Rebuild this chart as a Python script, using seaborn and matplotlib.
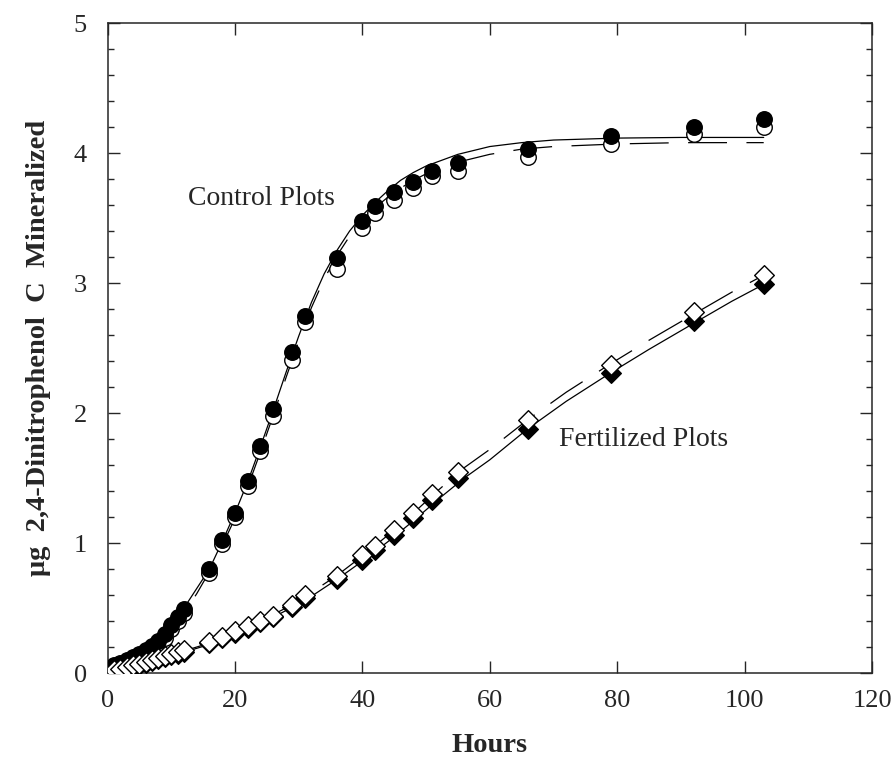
import matplotlib
matplotlib.use("Agg")
import matplotlib.pyplot as plt
import seaborn as sns

# Measured points (hours, ug DNP-C mineralized)
hours = [1, 2, 3, 4, 5, 6, 7, 8, 9, 10, 11, 12, 16, 18, 20, 22, 24, 26, 29, 31,
         36, 40, 42, 45, 48, 51, 55, 66, 79, 92, 103]

ctrl_filled = [0.06, 0.08, 0.10, 0.12, 0.15, 0.18, 0.21, 0.25, 0.30, 0.37, 0.43, 0.49,
               0.80, 1.02, 1.23, 1.48, 1.75, 2.03, 2.47, 2.75, 3.19, 3.48, 3.59, 3.70,
               3.78, 3.86, 3.92, 4.03, 4.13, 4.20, 4.26]
ctrl_open = [0.05, 0.07, 0.09, 0.11, 0.13, 0.16, 0.19, 0.23, 0.27, 0.34, 0.40, 0.46,
             0.77, 0.99, 1.20, 1.44, 1.71, 1.98, 2.41, 2.70, 3.11, 3.42, 3.54, 3.64,
             3.73, 3.82, 3.86, 3.97, 4.07, 4.15, 4.20]

fert_filled = [0.01, 0.02, 0.035, 0.05, 0.06, 0.075, 0.09, 0.105, 0.12, 0.135, 0.15, 0.165,
               0.23, 0.27, 0.31, 0.35, 0.39, 0.43, 0.51, 0.58, 0.72, 0.87, 0.95, 1.06,
               1.19, 1.33, 1.50, 1.88, 2.31, 2.71, 2.99]
fert_open = [0.02, 0.03, 0.045, 0.06, 0.07, 0.085, 0.10, 0.115, 0.13, 0.15, 0.165, 0.18,
             0.24, 0.28, 0.32, 0.36, 0.40, 0.44, 0.52, 0.60, 0.75, 0.91, 0.98, 1.10,
             1.23, 1.38, 1.55, 1.95, 2.37, 2.78, 3.06]

# Fitted curves
ctrl_fit_x = [0, 2, 4, 6, 8, 10, 12, 14, 16, 18, 20, 22, 24, 26, 28, 30, 32, 34, 36,
              38, 40, 42, 44, 46, 48, 50, 55, 60, 65, 70, 80, 90, 103]
ctrl_fit_solid = [0.04, 0.08, 0.13, 0.18, 0.25, 0.36, 0.50, 0.65, 0.80, 1.01, 1.23, 1.47,
                  1.74, 2.02, 2.31, 2.59, 2.85, 3.07, 3.25, 3.40, 3.52, 3.62, 3.71, 3.79,
                  3.85, 3.90, 3.99, 4.05, 4.08, 4.10, 4.115, 4.12, 4.12]
ctrl_fit_dash = [0.04, 0.07, 0.11, 0.16, 0.23, 0.33, 0.46, 0.61, 0.78, 0.98, 1.19, 1.43,
                 1.70, 1.98, 2.27, 2.55, 2.81, 3.03, 3.21, 3.36, 3.48, 3.58, 3.66, 3.73,
                 3.79, 3.84, 3.93, 3.99, 4.03, 4.05, 4.07, 4.08, 4.08]

fert_fit_x = [0, 4, 8, 12, 16, 20, 24, 28, 32, 36, 40, 44, 48, 52, 56, 60, 66, 72, 79,
              85, 92, 98, 103]
fert_fit_solid = [0.0, 0.05, 0.10, 0.16, 0.22, 0.30, 0.38, 0.48, 0.59, 0.72, 0.86, 1.01,
                  1.17, 1.34, 1.50, 1.64, 1.88, 2.09, 2.31, 2.49, 2.69, 2.86, 2.99]
fert_fit_dash = [0.01, 0.06, 0.11, 0.17, 0.23, 0.31, 0.40, 0.50, 0.62, 0.75, 0.90, 1.06,
                 1.23, 1.41, 1.58, 1.72, 1.95, 2.16, 2.38, 2.56, 2.76, 2.93, 3.06]

sns.set_style("ticks")
plt.rcParams["font.family"] = ["Liberation Serif", "DejaVu Serif"]
plt.rcParams["lines.scale_dashes"] = False

fig = plt.figure(figsize=(8.93, 7.58), dpi=100)
ax = fig.add_axes([0.1204, 0.1121, 0.8561, 0.8575])

dash = (0, (28, 14))
sns.lineplot(x=ctrl_fit_x, y=ctrl_fit_solid, color="black", lw=0.9, ax=ax)
sns.lineplot(x=ctrl_fit_x, y=ctrl_fit_dash, color="black", lw=0.9, linestyle=dash, ax=ax)
sns.lineplot(x=fert_fit_x, y=fert_fit_solid, color="black", lw=0.9, ax=ax)
sns.lineplot(x=fert_fit_x, y=fert_fit_dash, color="black", lw=0.9, linestyle=dash, ax=ax)

# open circles under filled, filled diamonds under open
sns.scatterplot(x=hours, y=ctrl_open, marker="o", s=125, color="white",
                edgecolor="black", linewidth=1.0, zorder=3, ax=ax)
sns.scatterplot(x=hours, y=ctrl_filled, marker="o", s=125, color="black",
                edgecolor="black", linewidth=1.0, zorder=4, ax=ax)
sns.scatterplot(x=hours, y=fert_filled, marker="D", s=100, color="black",
                edgecolor="black", linewidth=1.0, zorder=3, ax=ax)
sns.scatterplot(x=hours, y=fert_open, marker="D", s=100, color="white",
                edgecolor="black", linewidth=1.0, zorder=4, ax=ax)

ax.text(12.6, 3.65, "Control Plots", fontsize=20, va="center", ha="left")
ax.text(70.9, 1.80, "Fertilized Plots", fontsize=20, va="center", ha="left")

ax.set_xlim(0, 120)
ax.set_ylim(0, 5)
ax.set_xticks([0, 20, 40, 60, 80, 100, 120])
ax.set_yticks([0, 1, 2, 3, 4, 5])
ax.set_yticks([i * 0.2 for i in range(26)], minor=True)
ax.tick_params(which="both", direction="in", top=True, right=True, width=1.0,
               labelsize=19)
ax.tick_params(axis="x", pad=12)
ax.tick_params(axis="y", pad=15)
ax.tick_params(which="major", length=8.5)
ax.tick_params(which="minor", length=4.5)
for sp in ax.spines.values():
    sp.set_linewidth(1.1)

ax.set_xlabel("Hours", fontsize=20.5, fontweight="bold", labelpad=15)
ax.set_ylabel("μg  2,4-Dinitrophenol  C  Mineralized", fontsize=20.5,
              fontweight="bold", labelpad=16)

fig.savefig("out.png", dpi=100)
